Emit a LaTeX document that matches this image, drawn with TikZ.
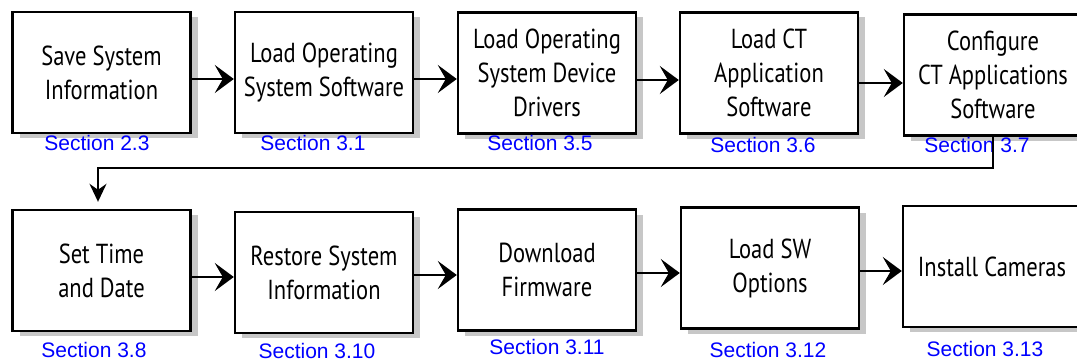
\documentclass[tikz,border=0pt]{standalone}
\usepackage{fontspec}
\setmainfont{PT Sans}[FakeStretch=0.82]
\newfontfamily\sectfont{Liberation Sans}
\usetikzlibrary{arrows.meta, positioning, shadows}

\tikzstyle{stepbox} = [draw, line width=2.4pt, fill=white, minimum width=178pt, minimum height=121pt, inner sep=0pt, align=center, font=\fontsize{27.5}{34}\selectfont, drop shadow={shadow xshift=7pt, shadow yshift=-5pt, fill=black!22, opacity=1}]
\tikzstyle{sect} = [inner sep=0pt, text=blue, font=\sectfont\fontsize{21}{24}\selectfont]
\tikzstyle{arrow} = [line width=2.6pt, -{Stealth[length=19pt, width=28pt, inset=8pt]}]
\tikzstyle{loopback} = [line width=2pt, -{Stealth[length=18pt, width=17pt, inset=6pt]}]

\begin{document}
\begin{tikzpicture}[x=1pt, y=-1pt]
\useasboundingbox (0,0) rectangle (1077,361);

% first row
\node[stepbox] (save) at (101.5,72.5) {Save System\\Information};
\node[stepbox] (loados) at (324,72.5) {Load Operating\\System Software};
\node[stepbox] (drivers) at (547,73) {Load Operating\\System Device\\Drivers};
\node[stepbox] (loadct) at (769,73) {Load CT\\Application\\Software};
\node[stepbox] (config) at (993,75) {Configure\\CT Applications\\Software};

% second row
\node[stepbox] (settime) at (101.5,270.5) {Set Time\\and Date};
\node[stepbox] (restore) at (324,272.5) {Restore System\\Information};
\node[stepbox] (firmware) at (547,270) {Download\\Firmware};
\node[stepbox] (swopts) at (770,268) {Load SW\\Options};
\node[stepbox] (cameras) at (992,266.5) {Install Cameras};

% section references
\node[sect] (s23) at (97,143) {Section 2.3};
\node[sect] (s31) at (313,143) {Section 3.1};
\node[sect] (s35) at (540,143) {Section 3.5};
\node[sect] (s36) at (763,145) {Section 3.6};
\node[sect] (s37) at (977,145) {Section 3.7};
\node[sect] (s38) at (94,350) {Section 3.8};
\node[sect] (s310) at (317,350.5) {Section 3.10};
\node[sect] (s311) at (547,347) {Section 3.11};
\node[sect] (s312) at (768,350) {Section 3.12};
\node[sect] (s313) at (985,348.5) {Section 3.13};

% arrows
\draw[arrow] ([yshift=-6.5pt]save.east) -- ([yshift=-6.5pt]save.east -| loados.west);
\draw[arrow] ([yshift=-6.5pt]loados.east) -- ([yshift=-6.5pt]loados.east -| drivers.west);
\draw[arrow] ([yshift=-7pt]drivers.east) -- ([yshift=-7pt]drivers.east -| loadct.west);
\draw[arrow] ([yshift=-10pt]loadct.east) -- ([yshift=-10pt]loadct.east -| config.west);
\draw[loopback] (config.south) -- ++(0,31) -| ([xshift=-3.5pt, yshift=7pt]settime.north);
\draw[arrow] ([yshift=-6.5pt]settime.east) -- ([yshift=-6.5pt]settime.east -| restore.west);
\draw[arrow] ([yshift=-2.5pt]restore.east) -- ([yshift=-2.5pt]restore.east -| firmware.west);
\draw[arrow] ([yshift=-3pt]firmware.east) -- ([yshift=-3pt]firmware.east -| swopts.west);
\draw[arrow] ([yshift=-3pt]swopts.east) -- ([yshift=-3pt]swopts.east -| cameras.west);
\end{tikzpicture}
\end{document}
